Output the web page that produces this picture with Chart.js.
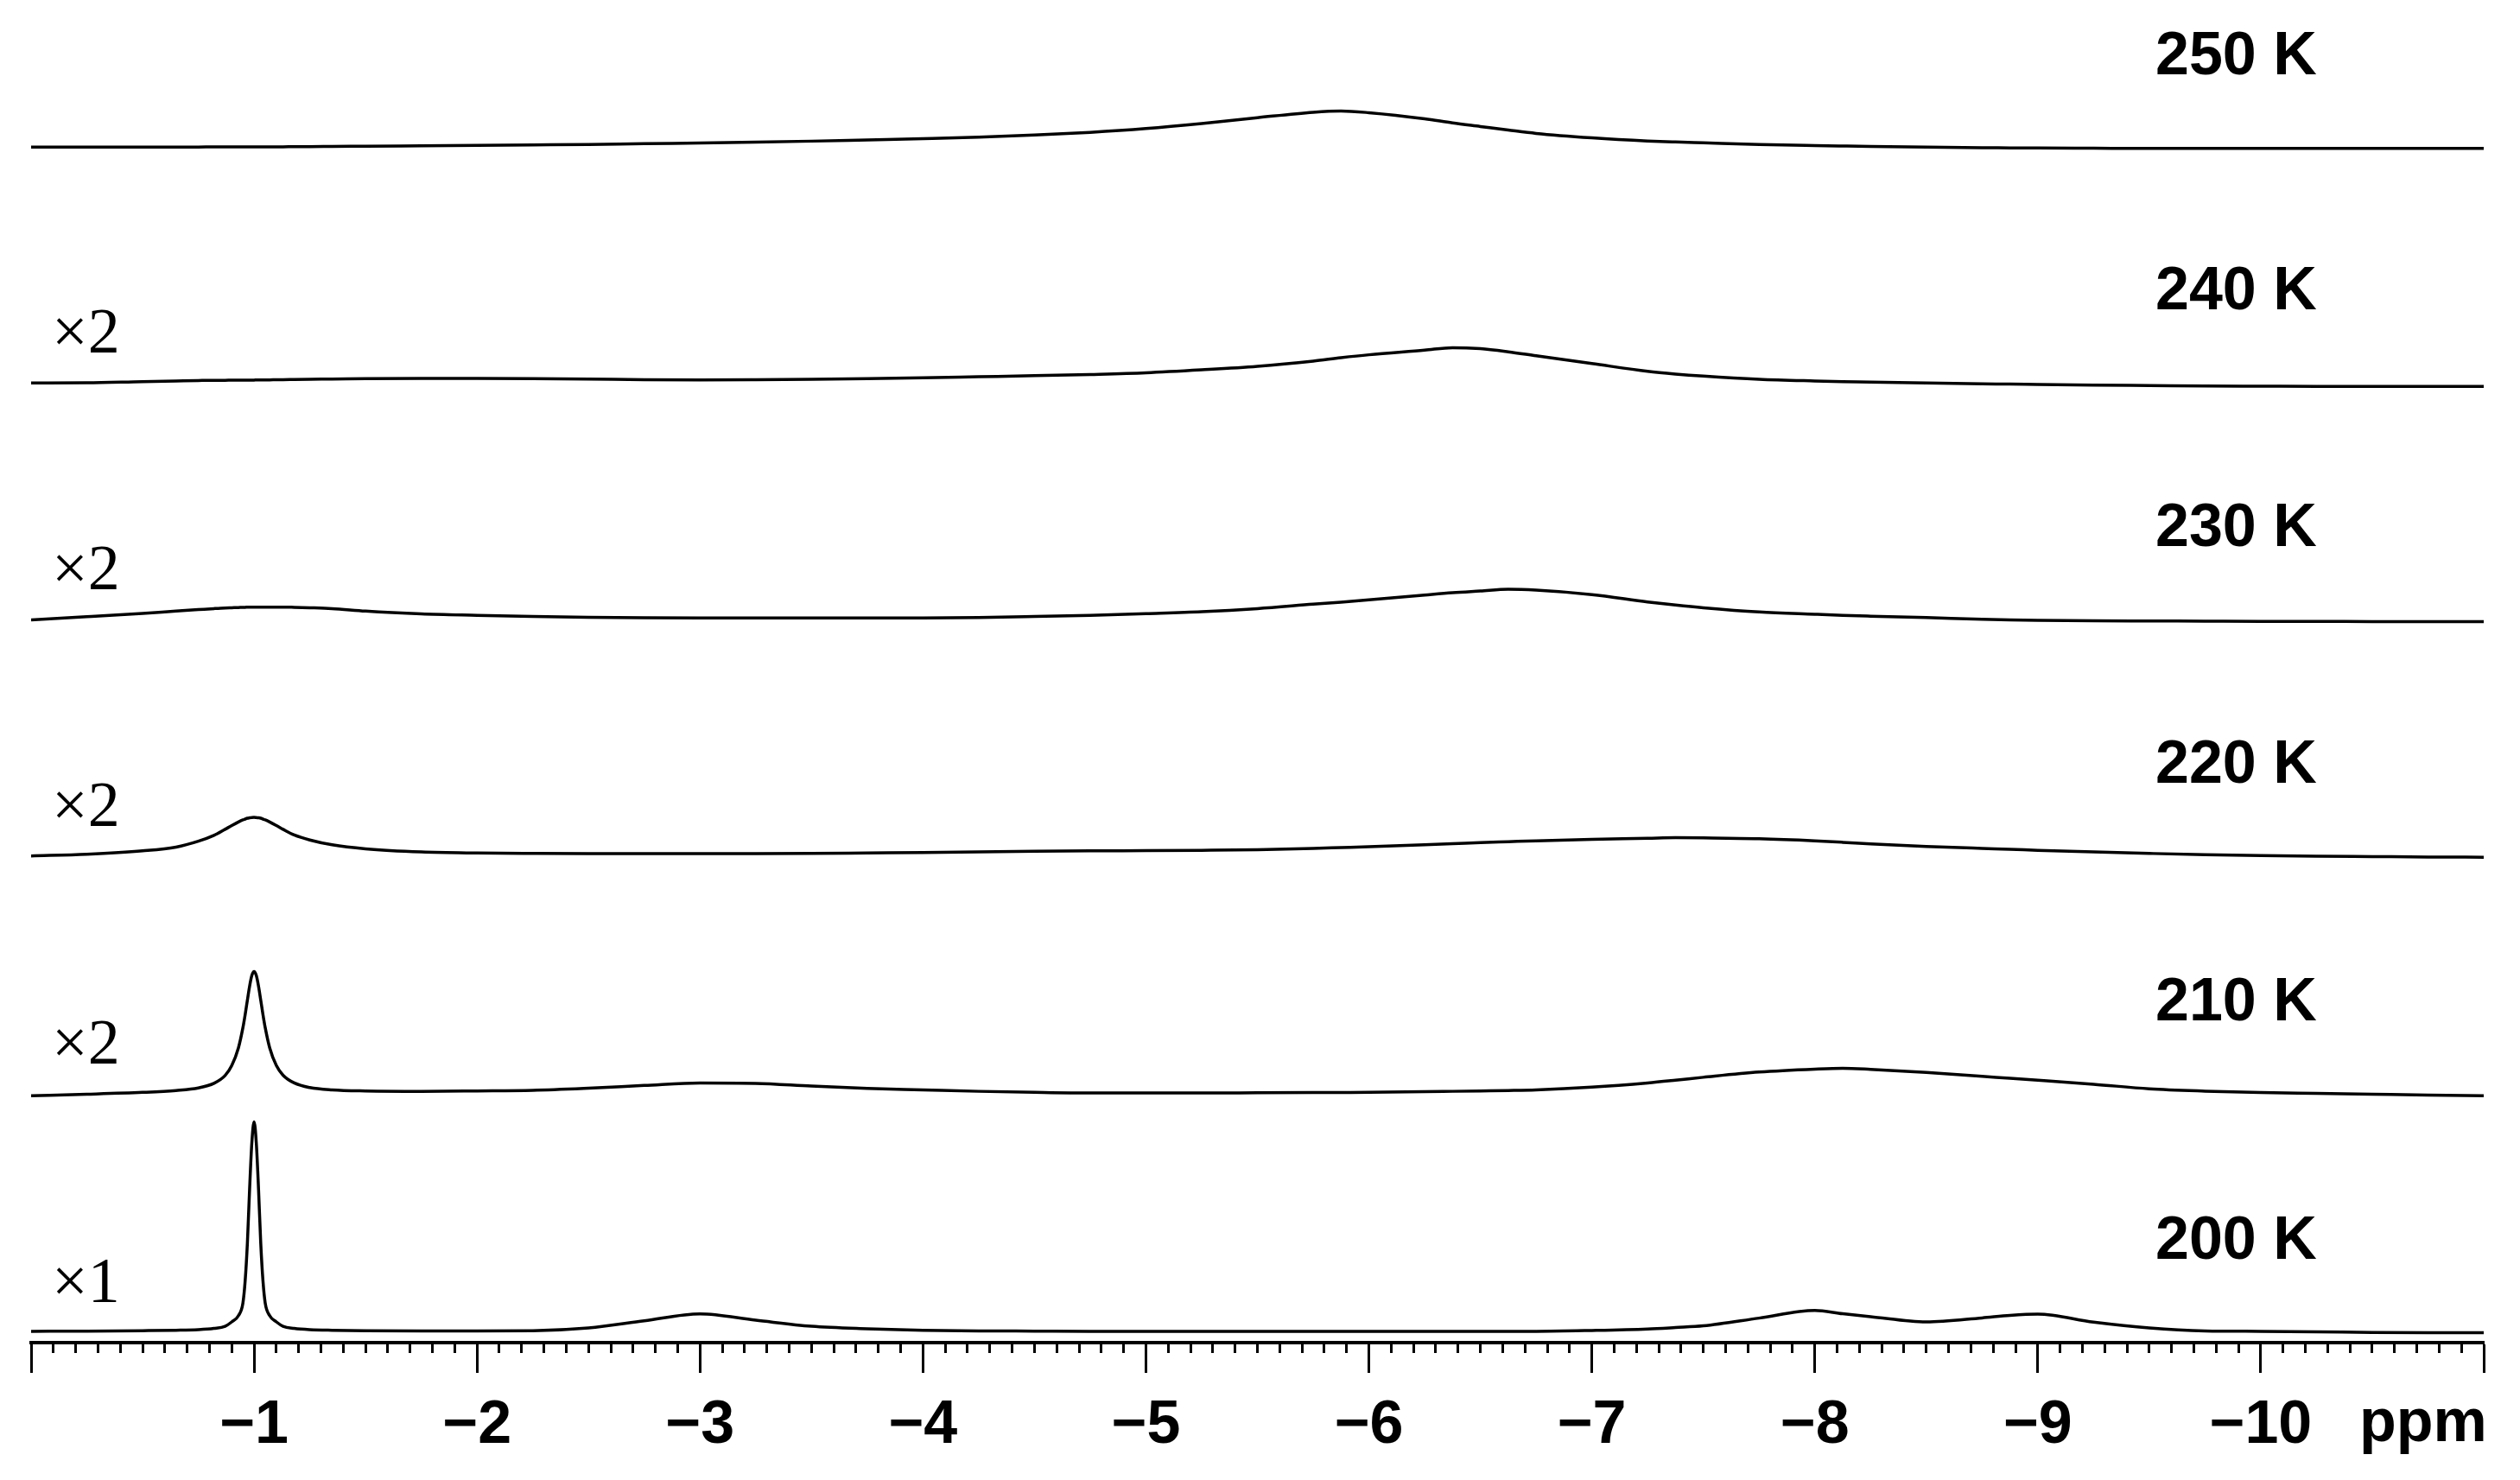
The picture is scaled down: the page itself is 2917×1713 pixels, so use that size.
<!DOCTYPE html>
<html>
<head>
<meta charset="utf-8">
<script src="https://cdn.jsdelivr.net/npm/chart.js@4.4.1/dist/chart.umd.min.js"></script>
<style>
  html, body { margin: 0; padding: 0; background: #fff; }
  #wrap { width: 2917px; height: 1713px; }
</style>
</head>
<body>
<div id="wrap"><canvas id="nmr"></canvas></div>
<script>
// Variable temperature spectra, stacked 200 K (bottom) .. 250 K (top)

// chemical shift grid in ppm, shared by every trace
const ppm = [
  0, -0.25, -0.5, -0.65, -0.75, -0.82, -0.87, -0.9, -0.93, -0.95,
  -0.96, -0.97, -0.98, -0.99, -1.0, -1.01, -1.02, -1.03, -1.04, -1.05,
  -1.07, -1.1, -1.13, -1.18, -1.25, -1.35, -1.5, -1.75, -2.0, -2.25,
  -2.5, -2.75, -3.0, -3.25, -3.5, -3.75, -4.0, -4.25, -4.5, -4.75,
  -5.0, -5.25, -5.5, -5.75, -5.875, -6.0, -6.25, -6.375, -6.5, -6.625,
  -6.75, -7.0, -7.25, -7.375, -7.5, -7.75, -8.0, -8.125, -8.25, -8.5,
  -8.75, -8.875, -9.0, -9.25, -9.5, -9.75, -10.0, -10.25, -10.5, -10.75,
  -11.0
];

// intensities (0 = its own baseline, 200 K main peak = 100)
const int200 = [
  0, 0.1, 0.3, 0.5, 0.8, 1.4, 2.4, 4.5, 7.5, 13.5,
  24, 42, 68, 90, 100, 90, 68, 42, 24, 13.5,
  7.5, 4.5, 2.4, 1.4, 0.8, 0.5, 0.3, 0.2, 0.2, 0.3,
  1.6, 5.0, 8.3, 5.3, 2.4, 1.2, 0.5, 0.2, 0.1, 0,
  0, 0, 0, 0, 0, 0, 0, 0, 0, 0,
  0, 0.4, 1.1, 1.8, 2.6, 6.3, 10.0, 8.4, 7.0, 4.5,
  6.4, 7.6, 8.2, 4.4, 1.6, 0.2, 0, -0.2, -0.6, -0.7,
  -0.7
];
const int210 = [
  -1.3, -0.6, 0.3, 1.2, 2.4, 4.6, 8.3, 13.1, 21.6, 31.2,
  37.4, 44.3, 51.0, 56.1, 58.0, 56.1, 51.0, 44.3, 37.4, 31.2,
  21.6, 13.1, 8.5, 4.8, 2.6, 1.5, 1.0, 0.8, 1.0, 1.3,
  2.3, 3.6, 4.8, 4.6, 3.3, 2.2, 1.5, 0.8, 0.3, 0,
  0, 0, 0.1, 0.2, 0.25, 0.3, 0.6, 0.8, 1.0, 1.2,
  1.5, 2.8, 4.8, 6.1, 7.5, 10.0, 11.4, 11.8, 11.3, 9.8,
  8.0, 7.0, 6.1, 4.2, 2.0, 0.9, 0.2, -0.2, -0.6, -1.0,
  -1.3
];
const int220 = [
  -0.4, 0.4, 2.0, 3.8, 6.6, 9.4, 12.3, 14.1, 15.8, 16.8,
  17.2, 17.6, 17.8, 17.95, 18.0, 17.9, 17.8, 17.6, 17.2, 16.8,
  15.8, 14.1, 12.3, 9.6, 7.2, 4.9, 3.0, 1.5, 1.0, 0.8,
  0.7, 0.7, 0.7, 0.7, 0.8, 1.0, 1.2, 1.5, 1.8, 2.0,
  2.1, 2.3, 2.6, 3.2, 3.6, 4.0, 4.9, 5.4, 6.0, 6.4,
  6.8, 7.5, 8.0, 8.3, 8.2, 7.8, 6.8, 6.1, 5.3, 4.1,
  3.2, 2.8, 2.3, 1.5, 0.8, 0.2, -0.2, -0.5, -0.7, -0.9,
  -1.0
];
const int230 = [
  -0.6, 0.9, 2.5, 3.6, 4.3, 4.8, 5.1, 5.2, 5.3, 5.4,
  5.4, 5.5, 5.5, 5.5, 5.5, 5.5, 5.5, 5.5, 5.5, 5.5,
  5.5, 5.5, 5.5, 5.4, 5.2, 4.8, 3.6, 2.3, 1.6, 1.0,
  0.6, 0.4, 0.3, 0.3, 0.3, 0.3, 0.3, 0.5, 1.0, 1.6,
  2.4, 3.3, 4.8, 6.9, 7.9, 9.0, 11.3, 12.4, 13.2, 14.0,
  13.6, 11.5, 8.0, 6.5, 5.2, 3.2, 2.1, 1.6, 1.2, 0.5,
  -0.3, -0.6, -0.8, -1.0, -1.1, -1.2, -1.3, -1.3, -1.4, -1.4,
  -1.4
];
const int240 = [
  -0.5, -0.4, 0.2, 0.5, 0.7, 0.8, 0.8, 0.9, 0.9, 0.9,
  0.9, 0.9, 0.9, 0.9, 0.9, 1.0, 1.0, 1.0, 1.0, 1.0,
  1.0, 1.1, 1.1, 1.2, 1.3, 1.4, 1.6, 1.7, 1.7, 1.6,
  1.4, 1.1, 1.0, 1.1, 1.3, 1.6, 2.0, 2.5, 3.0, 3.6,
  4.4, 5.8, 7.5, 10.0, 11.6, 13.0, 15.2, 16.4, 15.9, 14.4,
  12.5, 8.8, 5.1, 3.8, 2.8, 1.3, 0.5, 0.2, 0, -0.5,
  -0.9, -1.0, -1.2, -1.5, -1.7, -1.9, -2.0, -2.1, -2.1, -2.1,
  -2.1
];
const int250 = [
  0, 0, 0, 0, 0, 0.1, 0.1, 0.1, 0.1, 0.1,
  0.1, 0.1, 0.1, 0.1, 0.1, 0.1, 0.1, 0.1, 0.1, 0.1,
  0.1, 0.1, 0.1, 0.2, 0.2, 0.3, 0.4, 0.6, 0.8, 1.0,
  1.2, 1.6, 1.9, 2.3, 2.8, 3.4, 4.0, 4.7, 5.7, 7.0,
  8.8, 11.2, 14.0, 16.6, 17.2, 16.4, 13.5, 11.5, 9.8, 8.1,
  6.5, 4.4, 2.9, 2.4, 2.0, 1.2, 0.7, 0.5, 0.3, 0,
  -0.3, -0.4, -0.5, -0.6, -0.7, -0.7, -0.7, -0.7, -0.7, -0.7,
  -0.7
];

const temps = ['200 K', '210 K', '220 K', '230 K', '240 K', '250 K'];
const gains = ['×1', '×2', '×2', '×2', '×2', ''];
const series = [int200, int210, int220, int230, int240, int250];

// axis ticks every 0.1 ppm, labels on whole numbers
const tickValues = [];
for (let i = 0; i <= 110; i++) tickValues.push(-i / 10);

// each trace gets its own stacked y axis (bottom row first)
const axisMin = [-5.4, -6.1, -6.6, -6.4, -6.3, -5.4];
const axisSpan = [113.1, 113.1, 113.1, 113.1, 113.1, 75.6];

const isWhole = v => Math.abs(v - Math.round(v)) < 1e-9;
const boldFont = '"Liberation Sans", Arial, sans-serif';

const scales = {
  x: {
    type: 'linear',
    min: -11,
    max: 0,
    reverse: true,
    afterBuildTicks: scale => {
      scale.ticks = tickValues.map(v => ({ value: v }));
    },
    ticks: {
      autoSkip: false,
      maxRotation: 0,
      padding: 20,
      color: '#000',
      font: { family: boldFont, size: 70, weight: 'bold' },
      callback: v => (isWhole(v) && v !== 0 && v !== -11) ? '\u2212' + Math.abs(Math.round(v)) : ''
    },
    grid: {
      drawOnChartArea: false,
      color: '#000',
      tickColor: '#000',
      tickLength: 35,
      tickWidth: 3,
      // minor ticks are the same line cut short with a dash
      tickBorderDash: ctx => isWhole(ctx.tick.value) ? [] : [10, 200]
    },
    border: { display: true, color: '#000', width: 4 }
  }
};

temps.forEach((t, i) => {
  scales['y' + i] = {
    type: 'linear',
    display: false,
    stack: 'rows',
    stackWeight: axisSpan[i],
    min: axisMin[i],
    max: axisMin[i] + axisSpan[i]
  };
});

const datasets = series.map((vals, i) => ({
  label: temps[i],
  data: vals.map((v, j) => ({ x: ppm[j], y: v })),
  yAxisID: 'y' + i,
  borderColor: '#000',
  borderWidth: 3.5,
  pointRadius: 0,
  fill: false,
  cubicInterpolationMode: 'monotone'
}));

// temperature and gain labels sit relative to each trace's baseline
const rowLabels = {
  id: 'rowLabels',
  afterDraw(chart) {
    const ctx = chart.ctx;
    ctx.save();
    ctx.fillStyle = '#000';
    ctx.textAlign = 'left';
    ctx.textBaseline = 'alphabetic';
    temps.forEach((t, i) => {
      const y0 = chart.scales['y' + i].getPixelForValue(0);
      ctx.font = 'bold 70px ' + boldFont;
      ctx.fillText(t, 2495, y0 - 84);
      if (gains[i]) {
        ctx.font = '74px "Liberation Serif", "Times New Roman", serif';
        ctx.fillText(gains[i], 60, y0 - 34);
      }
    });
    const xs = chart.scales.x;
    ctx.font = 'bold 70px ' + boldFont;
    ctx.fillText('ppm', 2731, xs.top + 114);
    ctx.restore();
  }
};

new Chart(document.getElementById('nmr'), {
  type: 'line',
  data: { datasets: datasets },
  options: {
    responsive: true,
    maintainAspectRatio: false,
    animation: false,
    events: [],
    layout: { padding: { left: 36, right: 42, top: 0, bottom: 0 } },
    scales: scales,
    plugins: {
      legend: { display: false },
      tooltip: { enabled: false }
    }
  },
  plugins: [rowLabels]
});
</script>
</body>
</html>
